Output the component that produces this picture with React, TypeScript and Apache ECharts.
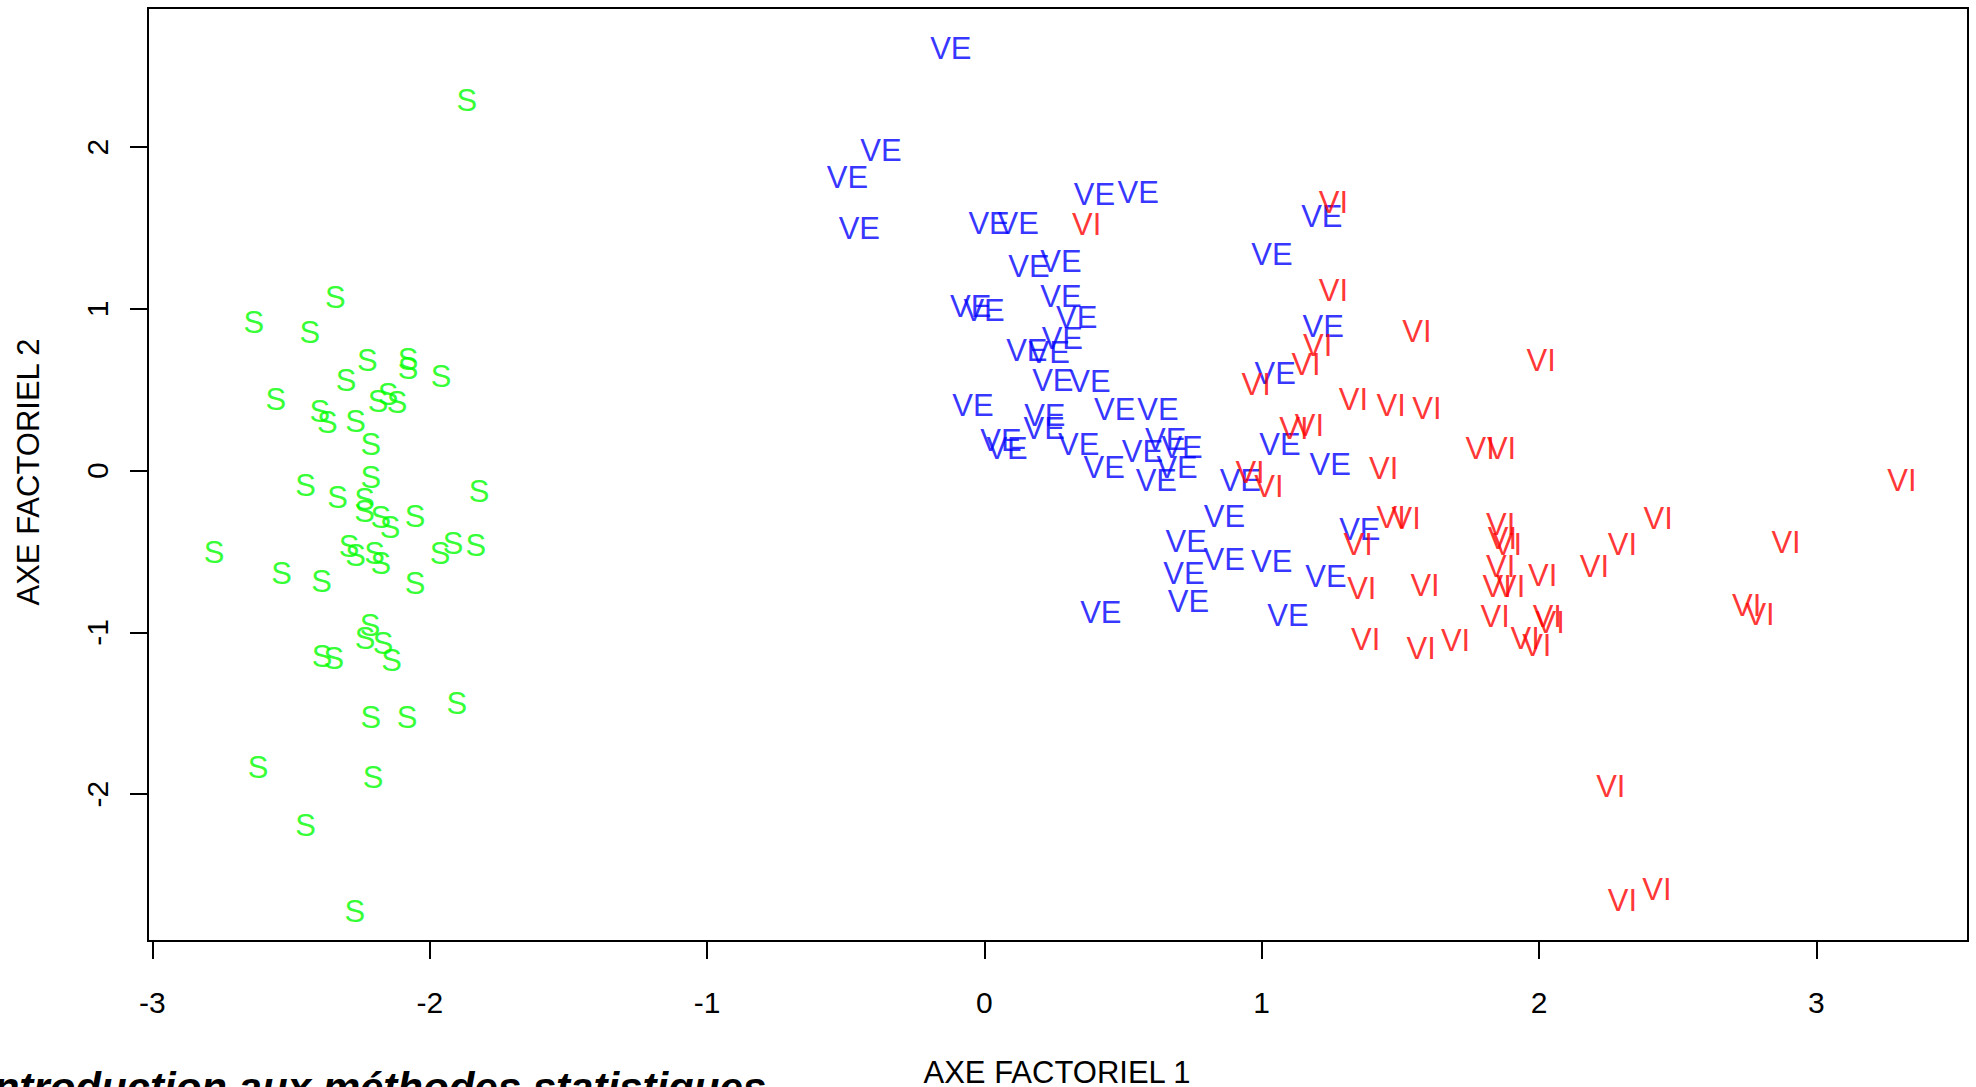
import React, { useEffect, useRef } from "react";
import * as echarts from "echarts";

const speciesLabels = ["S", "VE", "VI"];
const speciesColors = ["#00ff00", "#0000ff", "#ff0000"];

const sX = [-1.866, -2.34, -2.634, -2.432, -2.225, -2.078, -2.078, -2.302, -1.959, -2.555,
  -2.186, -2.15, -2.118, -2.396, -2.369, -2.267, -2.212, -2.448, -2.332, -2.212,
  -2.235, -2.235, -2.176, -2.143, -2.053, -1.822, -2.778, -2.534, -2.39, -2.291,
  -2.267, -2.199, -2.176, -2.053, -1.963, -1.916, -1.834, -2.215, -2.233, -2.168,
  -2.138, -2.388, -2.346, -1.902, -2.212, -2.082, -2.619, -2.204, -2.448, -2.27];
const sY = [2.299, 1.078, 0.926, 0.865, 0.692, 0.698, 0.644, 0.568, 0.594, 0.45,
  0.437, 0.481, 0.434, 0.375, 0.307, 0.315, 0.171, -0.082, -0.154, -0.033,
  -0.169, -0.243, -0.28, -0.342, -0.271, -0.119, -0.494, -0.626, -0.674, -0.459,
  -0.515, -0.503, -0.565, -0.686, -0.503, -0.441, -0.453, -0.945, -1.027, -1.059,
  -1.165, -1.14, -1.152, -1.43, -1.517, -1.517, -1.826, -1.888, -2.185, -2.717];

const veX = [-0.121, -0.373, -0.494, -0.451, 0.017, 0.122, 0.397, 0.555, 0.161, 0.276,
  1.037, 1.217, 0.276, 0.333, -0.049, -0.001, 0.281, 0.153, 0.234, 0.247,
  0.381, -0.041, 0.218, 0.216, 0.47, 0.626, 0.06, 0.082, 0.34, 0.432,
  0.57, 0.654, 0.713, 0.695, 0.62, 0.923, 0.866, 0.728, 0.865, 1.036,
  0.72, 0.736, 0.42, 1.095, 1.232, 1.354, 1.049, 1.222, 1.066, 1.247];
const veY = [2.622, 1.991, 1.821, 1.507, 1.536, 1.536, 1.717, 1.732, 1.274, 1.301,
  1.348, 1.583, 1.088, 0.955, 1.025, 1.002, 0.827, 0.754, 0.738, 0.569,
  0.559, 0.414, 0.351, 0.27, 0.39, 0.39, 0.194, 0.147, 0.169, 0.029,
  0.126, 0.2, 0.153, 0.029, -0.053, -0.053, -0.276, -0.427, -0.538, -0.55,
  -0.625, -0.798, -0.87, -0.884, -0.647, -0.354, 0.61, 0.903, 0.174, 0.049];

const viX = [0.369, 1.259, 1.259, 0.98, 1.16, 1.202, 0.958, 1.026, 1.116, 1.172,
  1.44, 1.788, 1.865, 1.348, 1.467, 1.521, 1.361, 1.589, 1.375, 1.575,
  1.699, 1.842, 1.56, 2.008, 1.331, 1.467, 1.596, 1.862, 1.868, 1.886,
  1.862, 1.849, 1.898, 2.013, 2.2, 2.301, 2.43, 2.891, 2.749, 2.797,
  2.03, 2.04, 1.95, 1.992, 3.309, 2.259, 2.301, 2.425];
const viY = [1.534, 1.67, 1.126, 0.545, 0.669, 0.784, -0.004, -0.09, 0.27, 0.291,
  0.02, 0.147, 0.147, -0.449, -0.283, -0.286, -0.721, -0.698, -1.035, -1.093,
  -1.043, -0.894, 0.868, 0.689, 0.448, 0.414, 0.392, -0.322, -0.41, -0.449,
  -0.585, -0.705, -0.707, -0.636, -0.585, -0.446, -0.288, -0.437, -0.826, -0.882,
  -0.894, -0.928, -1.03, -1.074, -0.049, -1.946, -2.651, -2.579];

const xTicks = [-3, -2, -1, 0, 1, 2, 3];
const yTicks = [-2, -1, 0, 1, 2];
const xTitle = "AXE FACTORIEL 1";
const yTitle = "AXE FACTORIEL 2";
const footer = "Introduction aux méthodes statistiques";

const FONT = "'Liberation Sans', Arial, Helvetica, sans-serif";

export default function App() {
  const ref = useRef<HTMLDivElement | null>(null);
  useEffect(() => {
    document.body.style.margin = "0";
    if (!ref.current) return;
    const chart = echarts.init(ref.current, null, { renderer: "svg" });
    const groups = [
      [sX, sY],
      [veX, veY],
      [viX, viY],
    ];
    const series = groups.map((g, k) => ({
      type: "scatter",
      name: speciesLabels[k],
      data: g[0].map((x: number, i: number) => [x, g[1][i]]),
      symbol: "circle",
      symbolSize: 1,
      itemStyle: { color: "rgba(0,0,0,0)" },
      silent: true,
      label: {
        show: true,
        position: "inside",
        offset: [0, 1.5],
        formatter: speciesLabels[k],
        color: speciesColors[k],
        fontSize: 31,
        fontFamily: FONT,
      },
      emphasis: { disabled: true },
    }));
    chart.setOption({
      animation: false,
      backgroundColor: "#ffffff",
      grid: {
        left: 148,
        top: 8,
        width: 1820,
        height: 933,
        show: true,
        borderColor: "#000",
        borderWidth: 2,
        backgroundColor: "transparent",
      },
      xAxis: {
        type: "value",
        min: -3.016,
        max: 3.547,
        axisLine: { show: false, onZero: false },
        splitLine: { show: false },
        axisTick: {
          show: true,
          customValues: xTicks,
          length: 18,
          inside: false,
          lineStyle: { color: "#000", width: 2 },
        },
        axisLabel: {
          customValues: xTicks,
          fontSize: 30,
          color: "#000",
          margin: 46,
          fontFamily: FONT,
        },
      },
      yAxis: {
        type: "value",
        min: -2.908,
        max: 2.861,
        axisLine: { show: false, onZero: false },
        splitLine: { show: false },
        axisTick: {
          show: true,
          customValues: yTicks,
          length: 18,
          inside: false,
          lineStyle: { color: "#000", width: 2 },
        },
        axisLabel: {
          customValues: yTicks,
          rotate: 90,
          fontSize: 30,
          color: "#000",
          margin: 36,
          fontFamily: FONT,
        },
      },
      graphic: [
        {
          type: "text",
          x: 1057,
          y: 1072,
          style: {
            text: xTitle,
            fontSize: 31,
            fontFamily: FONT,
            fill: "#000",
            align: "center",
            verticalAlign: "middle",
            textAlign: "center",
            textVerticalAlign: "middle",
          },
        },
        {
          type: "text",
          x: 28,
          y: 472,
          rotation: Math.PI / 2,
          style: {
            text: yTitle,
            fontSize: 31,
            fontFamily: FONT,
            fill: "#000",
            align: "center",
            verticalAlign: "middle",
            textAlign: "center",
            textVerticalAlign: "middle",
          },
        },
        {
          type: "text",
          x: -18,
          y: 1066,
          style: {
            text: footer,
            fontSize: 42,
            fontWeight: "bold",
            fontStyle: "italic",
            fontFamily: FONT,
            fill: "#000",
            align: "left",
            verticalAlign: "top",
            textAlign: "left",
            textVerticalAlign: "top",
          },
        },
      ],
      series,
    });
    return () => chart.dispose();
  }, []);
  return <div ref={ref} style={{ width: 1976, height: 1087 }} />;
}
